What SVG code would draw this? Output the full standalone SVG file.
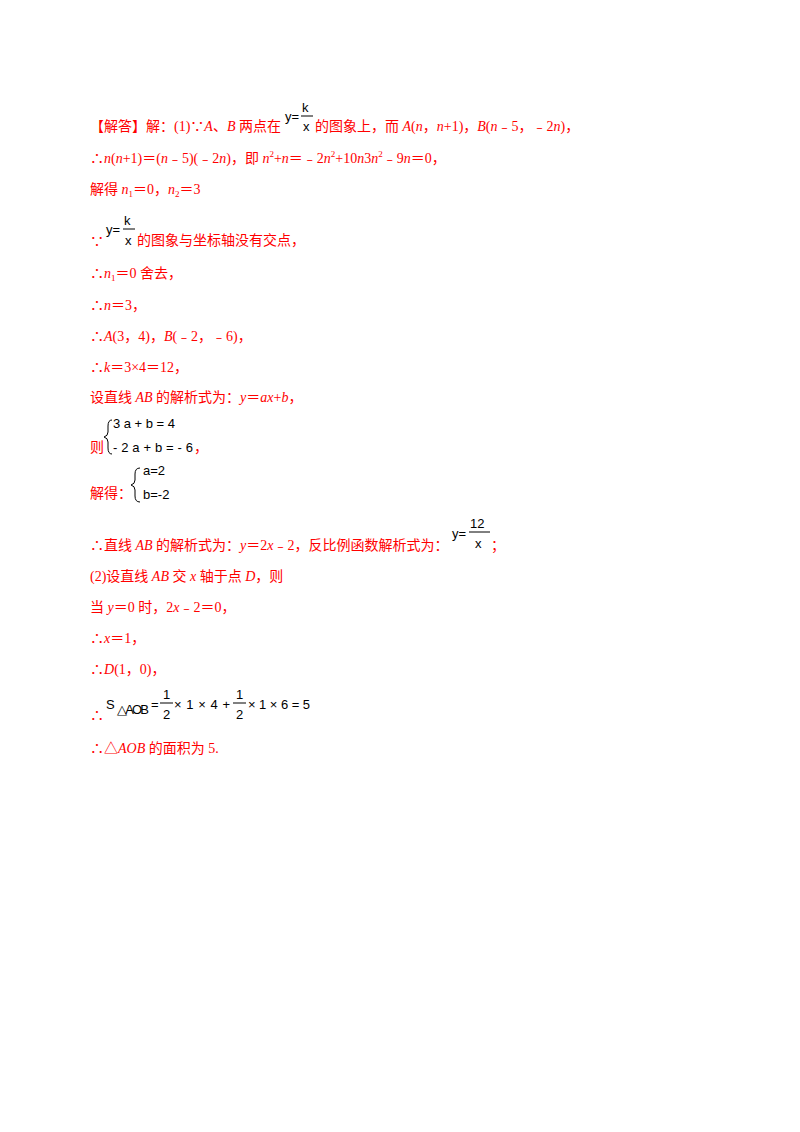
<svg xmlns="http://www.w3.org/2000/svg" width="800" height="1132" viewBox="0 0 800 1132">
<style>
.r{font-family:"Liberation Serif","Noto Sans CJK SC",serif;font-size:14px;fill:#f00}
.i{font-style:italic}
.m{font-family:"Liberation Sans",sans-serif;font-size:13px;fill:#000}
.ln{stroke:#000;stroke-width:1}
</style>
<rect width="800" height="1132" fill="#fff"/>
<g id="text">
<text class="r" x="90" y="131">【解答】解：(1)∵<tspan class="i">A</tspan>、<tspan class="i">B</tspan> 两点在</text>
<g id="f1"><text class="m" x="285" y="121">y=</text><text class="m" x="302" y="112">k</text><line class="ln" x1="301" y1="116" x2="313" y2="116"/><text class="m" x="303" y="131">x</text></g>
<text class="r" x="315" y="131">的图象上，而 <tspan class="i">A</tspan>(<tspan class="i">n</tspan>，<tspan class="i">n</tspan>+1)，<tspan class="i">B</tspan>(<tspan class="i">n</tspan>﹣5，﹣2<tspan class="i">n</tspan>)，</text>
<text class="r" x="90" y="163">∴<tspan class="i">n</tspan>(<tspan class="i">n</tspan>+1)＝(<tspan class="i">n</tspan>﹣5)(﹣2<tspan class="i">n</tspan>)，即 <tspan class="i">n</tspan><tspan font-size="9" dy="-6">2</tspan><tspan dy="6">+</tspan><tspan class="i">n</tspan>＝﹣2<tspan class="i">n</tspan><tspan font-size="9" dy="-6">2</tspan><tspan dy="6">+10</tspan><tspan class="i">n</tspan>3<tspan class="i">n</tspan><tspan font-size="9" dy="-6">2</tspan><tspan dy="6">﹣9</tspan><tspan class="i">n</tspan>＝0，</text>
<text class="r" x="90" y="194">解得 <tspan class="i">n</tspan><tspan font-size="9" dy="3">1</tspan><tspan dy="-3">＝0，</tspan><tspan class="i">n</tspan><tspan font-size="9" dy="3">2</tspan><tspan dy="-3">＝3</tspan></text>
<text class="r" x="90" y="246">∵</text>
<g id="f2"><text class="m" x="106" y="234">y=</text><text class="m" x="124" y="225">k</text><line class="ln" x1="123" y1="229" x2="135" y2="229"/><text class="m" x="125" y="245">x</text></g>
<text class="r" x="137" y="245">的图象与坐标轴没有交点，</text>
<text class="r" x="90" y="278">∴<tspan class="i">n</tspan><tspan font-size="9" dy="3">1</tspan><tspan dy="-3">＝0 舍去，</tspan></text>
<text class="r" x="90" y="310">∴<tspan class="i">n</tspan>＝3，</text>
<text class="r" x="90" y="341">∴<tspan class="i">A</tspan>(3，4)，<tspan class="i">B</tspan>(﹣2，﹣6)，</text>
<text class="r" x="90" y="372">∴<tspan class="i">k</tspan>＝3×4＝12，</text>
<text class="r" x="90" y="402">设直线 <tspan class="i">AB</tspan> 的解析式为：<tspan class="i">y</tspan>＝<tspan class="i">ax</tspan>+<tspan class="i">b</tspan>，</text>
<g id="sys1"><path d="M112,420 Q108,420 108,426 L108,432 Q108,436 104,437 Q108,438 108,442 L108,448 Q108,454 112,454" fill="none" stroke="#000"/>
<text class="m" x="113" y="428" textLength="62">3a+b=4</text><text class="m" x="113" y="452" textLength="80">-2a+b=-6</text></g>
<text class="r" x="90" y="452">则</text><text class="r" x="194" y="452">，</text>
<g id="sys2"><path d="M140,468 Q135,468 135,474 L135,480 Q135,484 131,485 Q135,486 135,490 L135,496 Q135,502 140,502" fill="none" stroke="#000"/>
<text class="m" x="143" y="475">a=2</text><text class="m" x="143" y="499">b=-2</text></g>
<text class="r" x="90" y="498">解得：</text>
<text class="r" x="90" y="550">∴直线 <tspan class="i">AB</tspan> 的解析式为：<tspan class="i">y</tspan>＝2<tspan class="i">x</tspan>﹣2，反比例函数解析式为：</text>
<g id="f3"><text class="m" x="452" y="538">y=</text><text class="m" x="470" y="528">12</text><line class="ln" x1="469" y1="532" x2="490" y2="532"/><text class="m" x="475" y="548">x</text></g>
<text class="r" x="491" y="550">；</text>
<text class="r" x="90" y="581">(2)设直线 <tspan class="i">AB</tspan> 交 <tspan class="i">x</tspan> 轴于点 <tspan class="i">D</tspan>，则</text>
<text class="r" x="90" y="612">当 <tspan class="i">y</tspan>＝0 时，2<tspan class="i">x</tspan>﹣2＝0，</text>
<text class="r" x="90" y="643">∴<tspan class="i">x</tspan>＝1，</text>
<text class="r" x="90" y="674">∴<tspan class="i">D</tspan>(1，0)，</text>
<text class="r" x="90" y="720">∴</text>
<g id="f4"><text class="m" x="106" y="709" font-size="16">S</text><text class="m" x="117" y="714" font-size="11" textLength="32">△AOB</text>
<text class="m" x="151" y="709">=</text><text class="m" x="163" y="699" font-size="15">1</text><line class="ln" x1="160" y1="703" x2="173" y2="703"/><text class="m" x="163" y="719" font-size="15">2</text>
<text class="m" x="174" y="709" font-size="15" textLength="56">×1×4+</text><text class="m" x="236" y="699" font-size="15">1</text><line class="ln" x1="233" y1="703" x2="246" y2="703"/><text class="m" x="236" y="719" font-size="15">2</text>
<text class="m" x="248" y="709" font-size="15" textLength="62">×1×6=5</text></g>
<text class="r" x="90" y="753">∴△<tspan class="i">AOB</tspan> 的面积为 5.</text>
</g>
</svg>
